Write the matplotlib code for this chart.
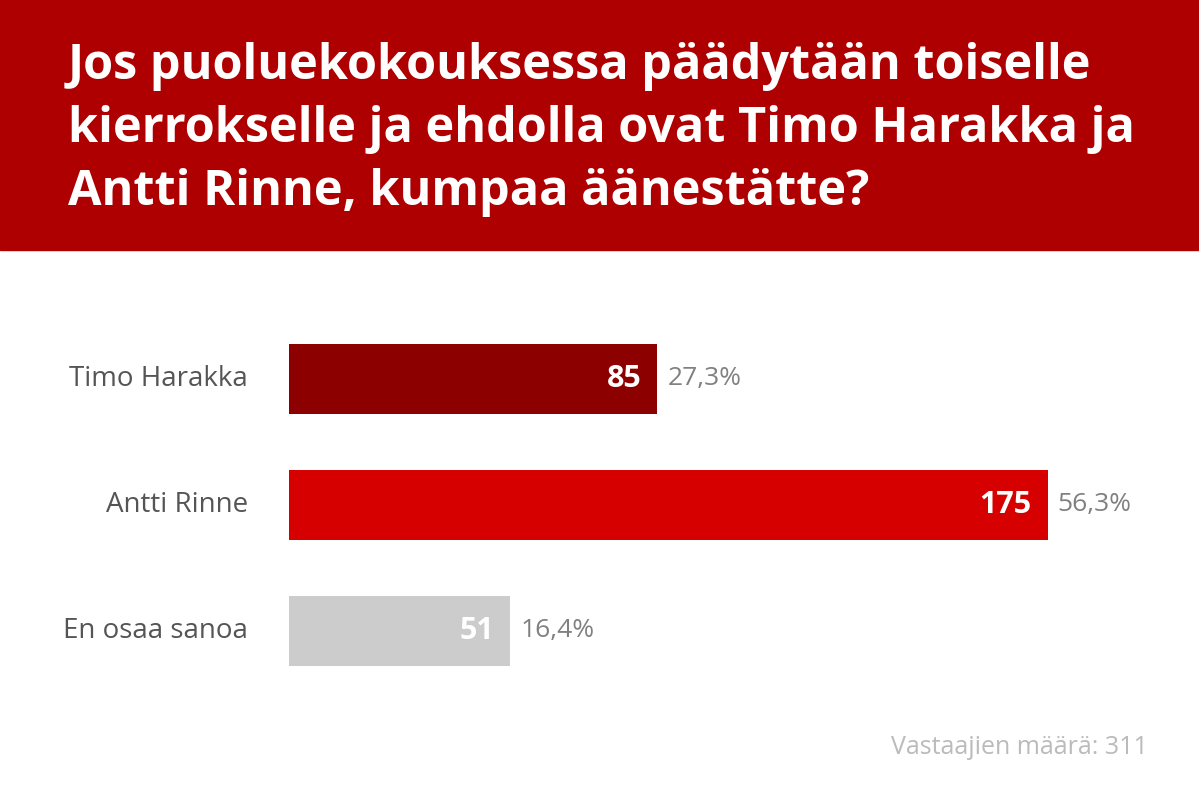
import matplotlib.pyplot as plt
from matplotlib.patches import Rectangle

# Chart data
categories = ['Timo Harakka', 'Antti Rinne', 'En osaa sanoa']
counts = [85, 175, 51]
percents = ['27,3%', '56,3%', '16,4%']
colors = ['#8c0000', '#d60000', '#cccccc']
title = 'Jos puoluekokouksessa päädytään toiselle\nkierrokselle ja ehdolla ovat Timo Harakka ja\nAntti Rinne, kumpaa äänestätte?'
footer = 'Vastaajien määrä: 311'

W, H = 1199, 807
fig = plt.figure(figsize=(W / 100, H / 100), dpi=100)
fig.patch.set_facecolor('white')

# Red header band
fig.patches.append(Rectangle((0, 1 - 250 / H), 1, 250 / H, transform=fig.transFigure,
                             color='#ae0000', zorder=0))
fig.text(68 / W, 1 - 42 / H, title, ha='left', va='top', color='white',
         fontsize=35, fontweight='bold', family='Open Sans', linespacing=1.38)

# Bars: axes placed in pixel coordinates
left, right = 289, 1150
top, bottom = 316, 694
ax = fig.add_axes([left / W, 1 - bottom / H, (right - left) / W, (bottom - top) / H])
ax.set_xlim(0, (right - left) / 4.335)
ax.set_ylim(2.5, -0.5)
ax.axis('off')

ys = list(range(len(categories)))
ax.barh(ys, counts, height=0.555, color=colors)

for y, cat, c, p in zip(ys, categories, counts, percents):
    ax.annotate(cat, (0, y), xytext=(-41, 0), textcoords='offset pixels',
                ha='right', va='center', fontsize=20, color='#555555', family='Open Sans')
    ax.annotate(str(c), (c, y), xytext=(-16, 0), textcoords='offset pixels',
                ha='right', va='center', fontsize=22, color='white',
                fontweight='bold', family='Open Sans')
    ax.annotate(p, (c, y), xytext=(10, 0), textcoords='offset pixels',
                ha='left', va='center', fontsize=19, color='#808080', family='Open Sans')

fig.text(1148 / W, 1 - 748 / H, footer, ha='right', va='center', fontsize=18,
         color='#bbbbbb', family='Open Sans')

fig.savefig('out.png', dpi=100)
